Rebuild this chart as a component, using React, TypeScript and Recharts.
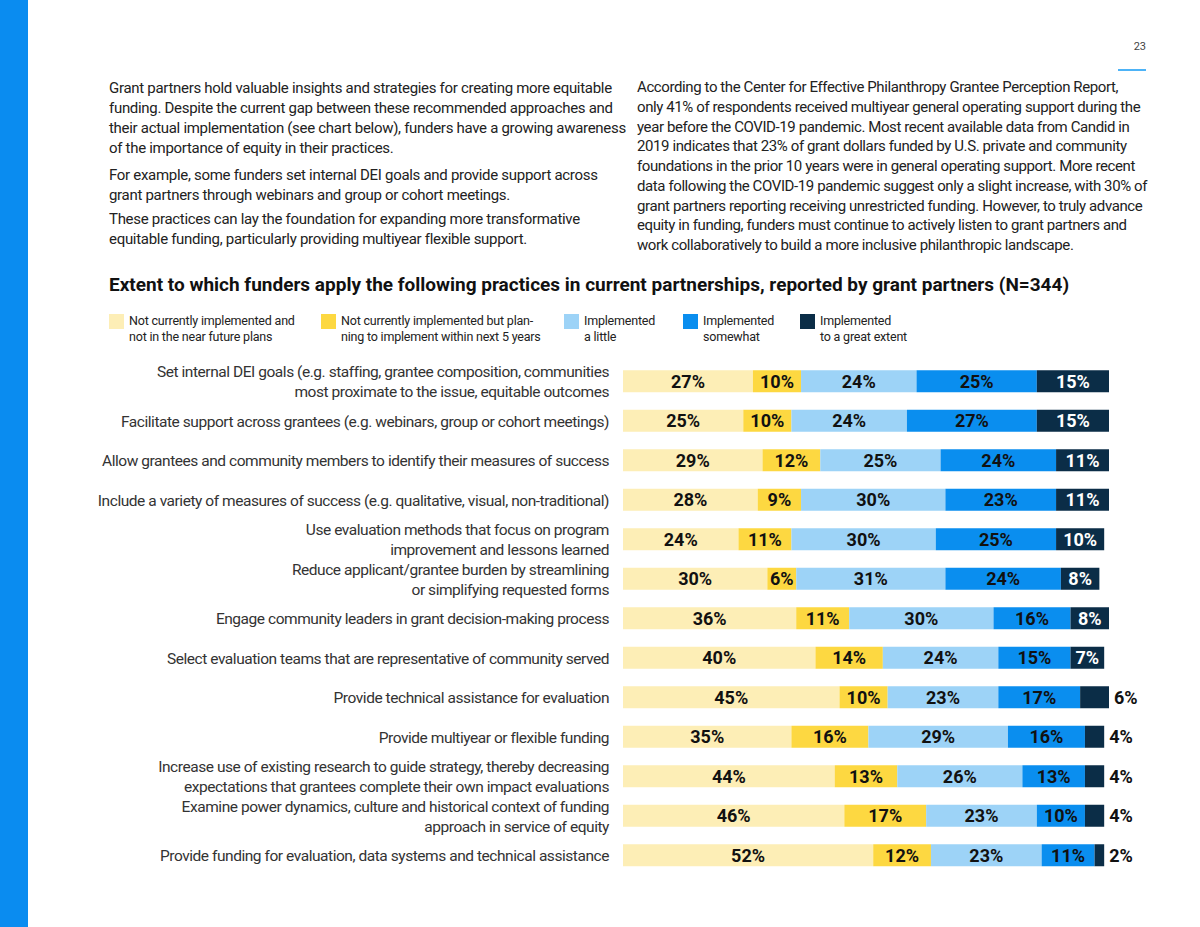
import React from "react";
import { BarChart, Bar, XAxis, YAxis, LabelList } from "recharts";

const categories = [
  "Set internal DEI goals (e.g. staffing, grantee composition, communities\nmost proximate to the issue, equitable outcomes",
  "Facilitate support across grantees (e.g. webinars, group or cohort meetings)",
  "Allow grantees and community members to identify their measures of success",
  "Include a variety of measures of success (e.g. qualitative, visual, non-traditional)",
  "Use evaluation methods that focus on program\nimprovement and lessons learned",
  "Reduce applicant/grantee burden by streamlining\nor simplifying requested forms",
  "Engage community leaders in grant decision-making process",
  "Select evaluation teams that are representative of community served",
  "Provide technical assistance for evaluation",
  "Provide multiyear or flexible funding",
  "Increase use of existing research to guide strategy, thereby decreasing\nexpectations that grantees complete their own impact evaluations",
  "Examine power dynamics, culture and historical context of funding\napproach in service of equity",
  "Provide funding for evaluation, data systems and technical assistance",
];

const notPlanned = [27, 25, 29, 28, 24, 30, 36, 40, 45, 35, 44, 46, 52];
const planning = [10, 10, 12, 9, 11, 6, 11, 14, 10, 16, 13, 17, 12];
const little = [24, 24, 25, 30, 30, 31, 30, 24, 23, 29, 26, 23, 23];
const somewhat = [25, 27, 24, 23, 25, 24, 16, 15, 17, 16, 13, 10, 11];
const greatExtent = [15, 15, 11, 11, 10, 8, 8, 7, 6, 4, 4, 4, 2];

const seriesKeys = ["notPlanned", "planning", "little", "somewhat", "great"];
const seriesNames = [
  "Not currently implemented and\nnot in the near future plans",
  "Not currently implemented but plan-\nning to implement within next 5 years",
  "Implemented\na little",
  "Implemented\nsomewhat",
  "Implemented\nto a great extent",
];
const seriesColors = ["#FDEEB6", "#FDD841", "#9DD3F7", "#0A8EEF", "#0B2D47"];
const legendX = [109, 321, 564, 683, 800];

const data = categories.map((c, i) => ({
  name: c,
  notPlanned: notPlanned[i],
  planning: planning[i],
  little: little[i],
  somewhat: somewhat[i],
  great: greatExtent[i],
}));

const BODY_FONT = "Roboto, 'Open Sans', sans-serif";

const leftParas = [
  [
    "Grant partners hold valuable insights and strategies for creating more equitable",
    "funding. Despite the current gap between these recommended approaches and",
    "their actual implementation (see chart below), funders have a growing awareness",
    "of the importance of equity in their practices.",
  ],
  [
    "For example, some funders set internal DEI goals and provide support across",
    "grant partners through webinars and group or cohort meetings.",
  ],
  [
    "These practices can lay the foundation for expanding more transformative",
    "equitable funding, particularly providing multiyear flexible support.",
  ],
];
const leftParaTops = [78, 165, 209];

const rightLines = [
  "According to the Center for Effective Philanthropy Grantee Perception Report,",
  "only 41% of respondents received multiyear general operating support during the",
  "year before the COVID-19 pandemic. Most recent available data from Candid in",
  "2019 indicates that 23% of grant dollars funded by U.S. private and community",
  "foundations in the prior 10 years were in general operating support. More recent",
  "data following the COVID-19 pandemic suggest only a slight increase, with 30% of",
  "grant partners reporting receiving unrestricted funding. However, to truly advance",
  "equity in funding, funders must continue to actively listen to grant partners and",
  "work collaboratively to build a more inclusive philanthropic landscape.",
];

const CategoryTick = (props: any) => {
  const { x, y, payload } = props;
  const lines = String(payload.value).split("\n");
  const lh = 20;
  const startY = y - ((lines.length - 1) * lh) / 2 + 1;
  return (
    <text
      x={x}
      y={startY}
      textAnchor="end"
      fill="#333"
      fontFamily={BODY_FONT}
      fontSize={15.5}
      letterSpacing={-0.45}
      dominantBaseline="central"
    >
      {lines.map((l, i) => (
        <tspan key={i} x={x} y={startY + i * lh}>
          {l}
        </tspan>
      ))}
    </text>
  );
};

const makeLabel = (isLast: boolean) => (props: any) => {
  const { x, y, width, height, value } = props;
  const cy = y + height / 2;
  if (isLast && value <= 6) {
    return (
      <text
        x={x + width + 5}
        y={cy}
        textAnchor="start"
        dominantBaseline="central"
        fill="#111"
        fontFamily={BODY_FONT}
        fontWeight={700}
        fontSize={18}
      >
        {value}%
      </text>
    );
  }
  return (
    <text
      x={x + width / 2}
      y={cy}
      textAnchor="middle"
      dominantBaseline="central"
      fill={isLast ? "#fff" : "#111"}
      fontFamily={BODY_FONT}
      fontWeight={700}
      fontSize={18}
    >
      {value}%
    </text>
  );
};

export default function App() {
  return (
    <div
      style={{
        position: "absolute",
        left: 0,
        top: 0,
        width: 1200,
        height: 927,
        background: "#fff",
        overflow: "hidden",
        fontFamily: BODY_FONT,
        color: "#222",
      }}
    >
      <div style={{ position: "absolute", left: 0, top: 0, width: 28, height: 927, background: "#0A8CF0" }} />
      <div
        style={{
          position: "absolute",
          left: 1118,
          width: 28,
          top: 40,
          textAlign: "right",
          fontSize: 11,
          color: "#444",
          lineHeight: "14px",
        }}
      >
        23
      </div>
      <div style={{ position: "absolute", left: 1118, top: 69, width: 28, height: 2, background: "#4DB3F7" }} />

      {leftParas.map((p, pi) => (
        <div
          key={pi}
          style={{
            position: "absolute",
            left: 109,
            top: leftParaTops[pi],
            fontSize: 15,
            lineHeight: "20px",
            letterSpacing: -0.3,
            whiteSpace: "nowrap",
          }}
        >
          {p.map((l, i) => (
            <div key={i}>{l}</div>
          ))}
        </div>
      ))}
      <div
        style={{
          position: "absolute",
          left: 637,
          top: 78,
          fontSize: 15,
          lineHeight: "19.75px",
          letterSpacing: -0.4,
          whiteSpace: "nowrap",
        }}
      >
        {rightLines.map((l, i) => (
          <div key={i}>{l}</div>
        ))}
      </div>

      <div
        style={{
          position: "absolute",
          left: 109,
          top: 273,
          fontSize: 19,
          fontWeight: 700,
          lineHeight: "24px",
          color: "#111",
          whiteSpace: "nowrap",
        }}
      >
        Extent to which funders apply the following practices in current partnerships, reported by grant partners (N=344)
      </div>

      {seriesNames.map((n, i) => (
        <div key={i}>
          <div
            style={{
              position: "absolute",
              left: legendX[i],
              top: 314,
              width: 15,
              height: 15,
              background: seriesColors[i],
            }}
          />
          <div
            style={{
              position: "absolute",
              left: legendX[i] + 20,
              top: 313,
              fontSize: 12.5,
              lineHeight: "16px",
              letterSpacing: -0.2,
              color: "#222",
              whiteSpace: "nowrap",
            }}
          >
            {n.split("\n").map((l, j) => (
              <div key={j}>{l}</div>
            ))}
          </div>
        </div>
      ))}

      <div style={{ position: "absolute", left: 0, top: 350 }}>
        <BarChart
          width={1200}
          height={540}
          data={data}
          layout="vertical"
          margin={{ top: 11.25, right: 91, bottom: 15.25, left: 0 }}
          barCategoryGap={0}
        >
          <XAxis type="number" domain={[0, 101]} hide />
          <YAxis
            type="category"
            dataKey="name"
            width={623}
            tickLine={false}
            axisLine={false}
            tickSize={0}
            tickMargin={14}
            interval={0}
            tick={<CategoryTick />}
          />
          {seriesKeys.map((k, i) => (
            <Bar
              key={k}
              dataKey={k}
              stackId="a"
              fill={seriesColors[i]}
              barSize={22}
              isAnimationActive={false}
            >
              <LabelList dataKey={k} content={makeLabel(i === seriesKeys.length - 1)} />
            </Bar>
          ))}
        </BarChart>
      </div>
    </div>
  );
}
